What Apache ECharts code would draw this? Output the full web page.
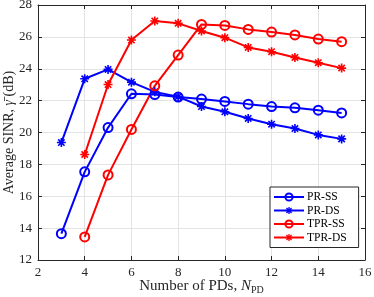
<!DOCTYPE html>
<html>
<head>
<meta charset="utf-8">
<script src="https://cdn.jsdelivr.net/npm/echarts@6/dist/echarts.min.js"></script>
<style>html,body{margin:0;padding:0;background:#fff}#c{width:374px;height:297px}</style>
</head>
<body>
<div id="c"></div>
<script>
var xPR = [3,4,5,6,7,8,9,10,11,12,13,14,15];
var xTPR = [4,5,6,7,8,9,10,11,12,13,14,15];
var prSS = [13.65,17.53,20.31,22.43,22.38,22.22,22.1,21.95,21.78,21.63,21.55,21.4,21.23];
var prDS = [19.37,23.37,23.96,23.16,22.55,22.25,21.63,21.3,20.88,20.52,20.25,19.85,19.6];
var tprSS = [13.45,17.34,20.19,22.93,24.86,26.78,26.72,26.47,26.3,26.12,25.86,25.7];
var tprDS = [18.62,23.01,25.8,27.0,26.85,26.37,25.95,25.34,25.07,24.71,24.38,24.04];
var xTicks = [2,4,6,8,10,12,14,16];
var yTicks = [12,14,16,18,20,22,24,26,28];
var names = ['PR-SS','PR-DS','TPR-SS','TPR-DS'];

function pairs(xs, ys){ return xs.map(function(x,i){return [x, ys[i]];}); }
var star = 'path://M0 4.1L10 4.1L10 5.9L0 5.9Z M4.1 0L5.9 0L5.9 10L4.1 10Z M2.1 0.82L9.18 7.9L7.9 9.18L0.82 2.1Z M7.9 0.82L9.18 2.1L2.1 9.18L0.82 7.9Z';
var ink = '#262626';
var font = 'Liberation Serif';

function ser(name, xs, ys, col, isStar){
  return {
    name: name, type: 'line', data: pairs(xs, ys),
    xAxisIndex: 0, yAxisIndex: 0,
    symbol: isStar ? star : 'circle',
    symbolSize: 9,
    lineStyle: {color: col, width: 2},
    itemStyle: isStar ? {color: col, borderWidth: 0} : {color: 'rgba(0,0,0,0)', borderColor: col, borderWidth: 2},
    emphasis: {disabled: true},
    animation: false, z: 3
  };
}

var chart = echarts.init(document.getElementById('c'), null, {renderer: 'canvas'});
chart.setOption({
  animation: false,
  textStyle: {fontFamily: font},
  grid: {left: 38, right: 9, top: 5, bottom: 37, containLabel: false, outerBoundsMode: 'none'},
  xAxis: [{
    type: 'value', min: 2, max: 16, interval: 2,
    name: '{a|Number of PDs, }{n|N}{s|PD}', nameLocation: 'middle', nameGap: 18, nameMoveOverlap: false,
    nameTextStyle: {rich: {
      a: {fontFamily: font, fontSize: 15, color: ink},
      n: {fontFamily: font, fontSize: 15, color: ink, fontStyle: 'italic'},
      s: {fontFamily: font, fontSize: 10, color: ink, verticalAlign: 'bottom', padding: [7,0,0,0]}
    }},
    axisLine: {lineStyle: {color: ink, width: 1}},
    axisTick: {inside: true, length: 4, lineStyle: {color: ink}},
    axisLabel: {fontFamily: font, fontSize: 13, color: ink, margin: 6},
    splitLine: {show: true, lineStyle: {color: '#e3e3e3', width: 1}}
  },{
    type: 'value', min: 2, max: 16, interval: 2, position: 'top',
    axisLine: {show: true, lineStyle: {color: ink, width: 1}},
    axisTick: {show: true, inside: true, length: 4, lineStyle: {color: ink}},
    axisLabel: {show: false}, splitLine: {show: false}
  }],
  yAxis: [{
    type: 'value', min: 12, max: 28, interval: 2,
    name: '{a|Average SINR, }{g|γ̄}{a| (dB)}', nameLocation: 'middle', nameGap: 22, nameMoveOverlap: false,
    nameTextStyle: {rich: {
      a: {fontFamily: font, fontSize: 14, color: ink},
      g: {fontFamily: font, fontSize: 14, color: ink, fontStyle: 'italic'}
    }},
    axisLine: {show: true, lineStyle: {color: ink, width: 1}},
    axisTick: {show: true, inside: true, length: 4, lineStyle: {color: ink}},
    axisLabel: {fontFamily: font, fontSize: 13, color: ink, margin: 6},
    splitLine: {show: true, lineStyle: {color: '#e3e3e3', width: 1}}
  },{
    type: 'value', min: 12, max: 28, interval: 2, position: 'right',
    axisLine: {show: true, lineStyle: {color: ink, width: 1}},
    axisTick: {show: true, inside: true, length: 4, lineStyle: {color: ink}},
    axisLabel: {show: false}, splitLine: {show: false}
  }],
  legend: {
    data: names, orient: 'vertical', left: 270, top: 187,
    backgroundColor: '#fff', borderColor: ink, borderWidth: 1,
    padding: [4, 12, 4, 3], itemGap: 1.5, itemWidth: 30, itemHeight: 9,
    textStyle: {fontFamily: font, fontSize: 11.5, color: '#000', padding: [0,0,0,-2]},
    selectedMode: false
  },
  series: [
    ser(names[0], xPR, prSS, '#0000ff', false),
    ser(names[1], xPR, prDS, '#0000ff', true),
    ser(names[2], xTPR, tprSS, '#ff0000', false),
    ser(names[3], xTPR, tprDS, '#ff0000', true)
  ]
});
</script>
</body>
</html>
